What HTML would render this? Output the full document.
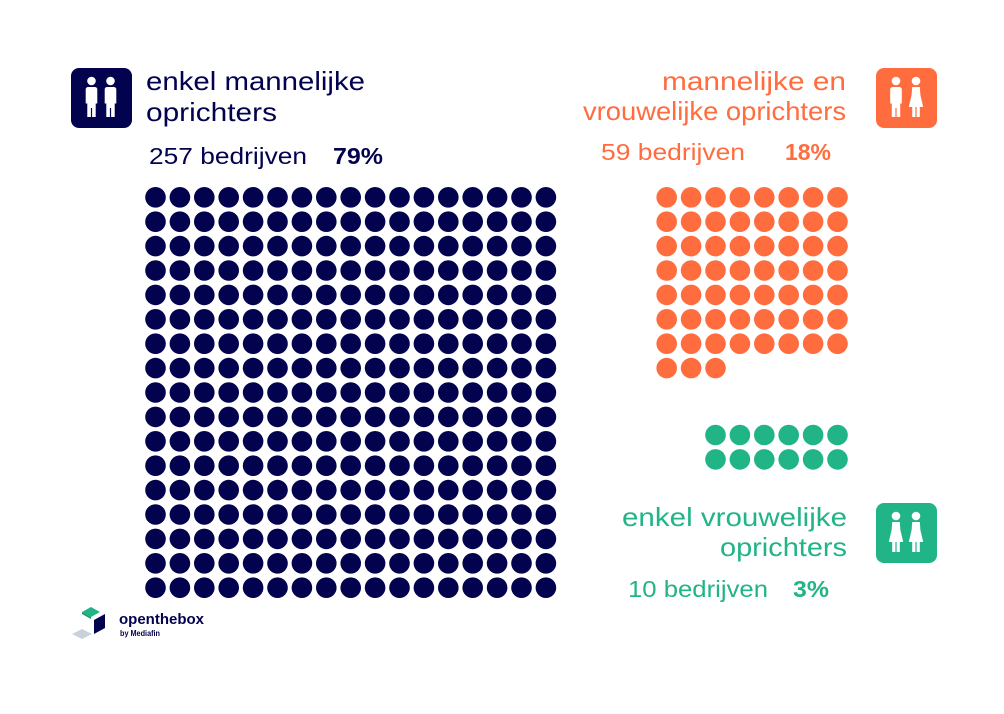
<!DOCTYPE html>
<html>
<head>
<meta charset="utf-8">
<style>
  html, body { margin:0; padding:0; background:#ffffff; }
  body { width:1004px; height:714px; overflow:hidden; }
  svg { display:block; }
  text { font-family: "Liberation Sans", "DejaVu Sans", sans-serif; }
</style>
</head>
<body>
<svg width="1004" height="714" viewBox="0 0 1004 714" xmlns="http://www.w3.org/2000/svg">
  <defs>
    <g id="man">
      <circle cx="0" cy="13" r="4.3"/>
      <path d="M-5.8 21.5 Q-5.8 19 -3 19 L3 19 Q5.8 19 5.8 21.5 L5.8 35.5 L4.2 35.5 L4.2 49 L0.6 49 L0.6 40 L-0.6 40 L-0.6 49 L-4.2 49 L-4.2 35.5 L-5.8 35.5 Z"/>
    </g>
    <g id="woman">
      <circle cx="0" cy="13" r="4.3"/>
      <path d="M-3.8 19 L3.8 19 L4.4 27 L7.2 39 L3.8 39 L3.8 49 L0.6 49 L0.6 39 L-0.6 39 L-0.6 49 L-3.8 49 L-3.8 39 L-7.2 39 L-4.4 27 Z"/>
    </g>
  </defs>

  <!-- Navy icon -->
  <rect x="71" y="68" width="61" height="60" rx="8" fill="#02024e"/>
  <g fill="#ffffff">
    <use href="#man" x="91.5" y="68"/>
    <use href="#man" x="110.5" y="68"/>
  </g>

  <!-- Orange icon -->
  <rect x="876" y="68" width="61" height="60" rx="8" fill="#ff6d3f"/>
  <g fill="#ffffff">
    <use href="#man" x="896" y="68"/>
    <use href="#woman" x="916" y="68"/>
  </g>

  <!-- Green icon -->
  <rect x="876" y="503" width="61" height="60" rx="8" fill="#21b487"/>
  <g fill="#ffffff">
    <use href="#woman" x="896" y="503"/>
    <use href="#woman" x="916" y="503"/>
  </g>

  <!-- Navy text -->
  <g fill="#02024e">
    <text x="146" y="90" font-size="26" textLength="219" lengthAdjust="spacingAndGlyphs">enkel mannelijke</text>
    <text x="146" y="121" font-size="26" textLength="131" lengthAdjust="spacingAndGlyphs">oprichters</text>
    <text x="149" y="164" font-size="23" textLength="158" lengthAdjust="spacingAndGlyphs">257 bedrijven</text>
    <text x="333" y="164" font-size="23" font-weight="bold" textLength="50" lengthAdjust="spacingAndGlyphs">79%</text>
  </g>

  <!-- Orange text -->
  <g fill="#ff6d3f">
    <text x="662" y="90" font-size="26" textLength="184" lengthAdjust="spacingAndGlyphs">mannelijke en</text>
    <text x="583" y="120" font-size="26" textLength="263" lengthAdjust="spacingAndGlyphs">vrouwelijke oprichters</text>
    <text x="601" y="160" font-size="23" textLength="144" lengthAdjust="spacingAndGlyphs">59 bedrijven</text>
    <text x="785" y="160" font-size="23" font-weight="bold" textLength="46" lengthAdjust="spacingAndGlyphs">18%</text>
  </g>

  <!-- Green text -->
  <g fill="#21b487">
    <text x="622" y="526" font-size="26" textLength="225" lengthAdjust="spacingAndGlyphs">enkel vrouwelijke</text>
    <text x="720" y="556" font-size="26" textLength="127" lengthAdjust="spacingAndGlyphs">oprichters</text>
    <text x="628" y="597" font-size="23" textLength="140" lengthAdjust="spacingAndGlyphs">10 bedrijven</text>
    <text x="793" y="597" font-size="23" font-weight="bold" textLength="36" lengthAdjust="spacingAndGlyphs">3%</text>
  </g>

  <g id="navy" fill="#02024e"></g>
  <g id="orange" fill="#ff6d3f"></g>
  <g id="green" fill="#21b487"></g>

  <!-- Logo -->
  <polygon points="82,612 91,607 100,612 91,617" fill="#21b487"/>
  <polygon points="82,612 91,617 91,619 82,614" fill="#1a9a72"/>
  <polygon points="94,620 105,614 105,628 94,634" fill="#02024e"/>
  <polygon points="72,634 82,629 92,634 82,639" fill="#c9d1dc"/>
  <text x="119" y="624" font-size="14.5" font-weight="bold" fill="#02024e" textLength="85" lengthAdjust="spacingAndGlyphs">openthebox</text>
  <text x="120" y="636" font-size="8" font-weight="bold" fill="#02024e" textLength="40" lengthAdjust="spacingAndGlyphs">by Mediafin</text>
</svg>
<script>
(function(){
  var NS="http://www.w3.org/2000/svg";
  function dot(g,cx,cy){
    var c=document.createElementNS(NS,"circle");
    c.setAttribute("cx",cx.toFixed(2));
    c.setAttribute("cy",cy.toFixed(2));
    c.setAttribute("r","10.3");
    g.appendChild(c);
  }
  var s=24.4;
  var n=document.getElementById("navy");
  for(var j=0;j<17;j++) for(var i=0;i<17;i++) dot(n,155.5+i*s,197.3+j*s);
  var o=document.getElementById("orange");
  var cnt=0;
  for(var j=0;j<8;j++) for(var i=0;i<8;i++){ if(cnt<59) dot(o,666.7+i*s,197.3+j*s); cnt++; }
  var g=document.getElementById("green");
  for(var j=0;j<2;j++) for(var i=0;i<6;i++) dot(g,715.5+i*s,435+j*s);
})();
</script>
</body>
</html>
